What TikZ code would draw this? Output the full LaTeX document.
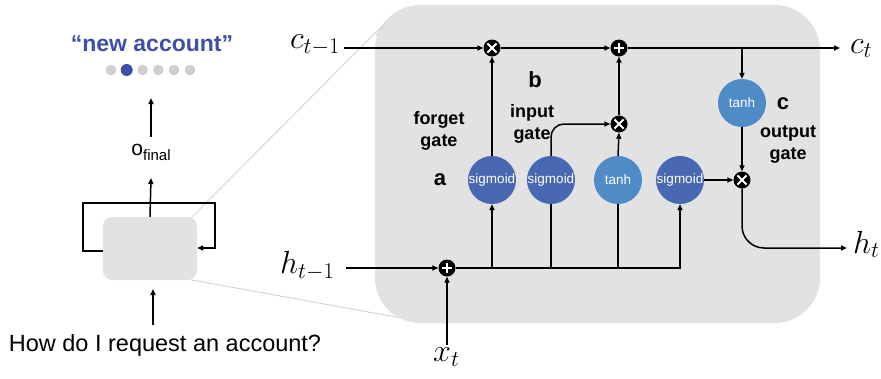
\RequirePackage{fix-cm}
\documentclass[tikz,border=0pt]{standalone}
\usepackage{fontspec}
\setmainfont{Liberation Sans}
\usetikzlibrary{arrows.meta}

\definecolor{cellgray}{HTML}{E2E2E2}
\definecolor{zoomgray}{HTML}{D6D6D6}
\definecolor{sigblue}{HTML}{4869B1}
\definecolor{tanhblue}{HTML}{4F8BC6}
\definecolor{dotgray}{HTML}{CFCFCF}
\definecolor{wordblue}{HTML}{3D4FA6}

\tikzset{
  wire/.style={draw=black, line width=1.5pt},
  arr/.style={wire, -{Triangle[length=6pt,width=5pt]}},
  gatecirc/.style={circle, inner sep=0pt, minimum size=48pt, text=white,
    font=\fontsize{13.5}{14}\selectfont},
  sig/.style={gatecirc, fill=sigblue},
  th/.style={gatecirc, fill=tanhblue},
  opnode/.style={circle, fill=black, inner sep=0pt, minimum size=17pt},
  mulop/.style={opnode, path picture={
    \draw[white, line width=1.8pt]
      ([shift={(-4.6pt,-4.6pt)}]path picture bounding box.center) --
      ([shift={(4.6pt,4.6pt)}]path picture bounding box.center)
      ([shift={(-4.6pt,4.6pt)}]path picture bounding box.center) --
      ([shift={(4.6pt,-4.6pt)}]path picture bounding box.center);}},
  addop/.style={opnode, path picture={
    \draw[white, line width=2pt]
      ([xshift=-5pt]path picture bounding box.center) --
      ([xshift=5pt]path picture bounding box.center)
      ([yshift=-5pt]path picture bounding box.center) --
      ([yshift=5pt]path picture bounding box.center);}},
  gatelbl/.style={font=\bfseries\fontsize{18}{22}\selectfont, align=center, inner sep=0pt},
  letter/.style={font=\bfseries\fontsize{22}{22}\selectfont, inner sep=0pt},
  mathlbl/.style={font=\fontsize{32}{32}\selectfont, inner sep=0pt, anchor=base west},
}

\begin{document}
\begin{tikzpicture}[x=1pt, y=-1pt]
\useasboundingbox (0,0) rectangle (881,378);

% ---------- unrolled view (left) ----------
\node[fill=cellgray, rounded corners=9pt, minimum width=94pt, minimum height=63pt,
      inner sep=0pt] (rnn) at (150,248.5) {};

% zoom guide lines
\draw[zoomgray, line width=1pt] (192,217) -- (386,22);
\draw[zoomgray, line width=1pt] (192,280) -- (418,321);

% recurrent loop
\coordinate (loopA) at (83,251);
\coordinate (loopB) at (83,203);
\coordinate (loopC) at (215,203);
\coordinate (loopD) at (215,248);
\draw[arr] ([yshift=-2.5pt]rnn.west) -- (loopA) -- (loopB) -- (loopC) -- (loopD)
  -- (rnn.east |- loopD);

% output
\node[inner sep=0pt, anchor=base] (ofinal) at (151,155)
  {\fontsize{21}{21}\selectfont o\raisebox{-5pt}{\fontsize{15}{15}\selectfont final}};
\coordinate (oup) at (151,178);
\draw[arr] (rnn.north) -- (oup);
\coordinate (olow) at (151,137);
\coordinate (otop) at (151,98);
\draw[arr] (olow) -- (otop);

% prediction dots
\foreach \i/\xx in {1/111,3/142.7,4/158.3,5/174,6/190}
  \node[circle, fill=dotgray, minimum size=10.6pt, inner sep=0pt] (dot\i) at (\xx,70) {};
\node[circle, fill=wordblue, minimum size=12pt, inner sep=0pt] (dot2) at (126.7,70) {};

\node[inner sep=0pt, anchor=base, text=wordblue,
      font=\bfseries\fontsize{23}{23}\selectfont] (word) at (152,51.7) {“new account”};

% input question
\node[inner sep=0pt, anchor=base, font=\fontsize{23.5}{24}\selectfont] (question)
  at (165,351.7) {How do I request an account?};
\coordinate (qtop) at (153,325);
\coordinate (qend) at (153,289);
\draw[arr] (qtop) -- (qend);

% ---------- LSTM cell (right) ----------
\node[fill=cellgray, rounded corners=45pt, minimum width=445pt, minimum height=318pt,
      inner sep=0pt] (cell) at (597.5,164) {};
\draw[zoomgray, line width=1pt] (376,36) -- (386,22);

% operators
\node[mulop] (mulf) at (492,48) {};
\node[addop] (addc) at (619,48) {};
\node[mulop] (muli) at (619,124) {};
\node[mulop] (mulo) at (742,180) {};
\node[addop] (addh) at (447,268) {};

% gates
\node[sig] (sigf) at (492,180) {sigmoid};
\node[sig] (sigi) at (551,180) {sigmoid};
\node[th]  (tanhi) at (618,180) {tanh};
\node[sig] (sigo) at (680,180) {sigmoid};
\node[th]  (tanho) at (742,103) {tanh};

% labels
\node[gatelbl] (lforget) at (439,131) {forget\\gate};
\node[gatelbl] (linput) at (532,124) {input\\gate};
\node[gatelbl] (loutput) at (788,145) {output\\gate};
\node[letter] (la) at (440,180) {a};
\node[letter] (lb) at (535,80) {b};
\node[letter] (lc) at (783,104) {c};

% state labels
\node[mathlbl] (ctm1) at (290,48.3) {$c_{t-1}$};
\node[mathlbl] (ct) at (850,53) {$c_t$};
\node[mathlbl] (htm1) at (280,273.3) {$h_{t-1}$};
\node[mathlbl] (ht) at (853,253) {$h_t$};
\node[mathlbl] (xt) at (433,361.7) {$x_t$};

\coordinate (cstart) at (344,48);
\coordinate (cend) at (840,48);
\coordinate (hstart) at (346,268);
\coordinate (htend) at (847,248);
\coordinate (xstart) at (447,345);
\coordinate (csplit) at (742,48);

% cell state path
\draw[arr] (cstart) -- (mulf.west);
\draw[arr] (mulf.east) -- (addc.west);
\draw[arr] (addc.east) -- (cend);
\draw[arr] (csplit) -- (tanho.north);

% hidden / input path
\draw[arr] (hstart) -- (addh.west);
\draw[arr] (xstart) -- (addh.south);
\draw[arr] (addh.east) -- (sigo.south |- addh) -- (sigo.south);
\draw[arr] (sigf.south |- addh) -- (sigf.south);
\draw[wire] (sigi.south |- addh) -- (sigi.south);
\draw[wire] (tanhi.south |- addh) -- (tanhi.south);

% gate outputs
\draw[arr] (sigf.north) -- (mulf.south);
\draw[arr, rounded corners=13pt] (sigi.north) |- (muli.west);
\draw[arr] (tanhi.north) -- (muli.south);
\draw[arr] (muli.north) -- (addc.south);
\draw[arr] (tanho.south) -- (mulo.north);
\draw[arr] (sigo.east) -- (mulo.west);
\draw[arr, rounded corners=22pt] (mulo.south) |- (htend);
\end{tikzpicture}
\end{document}
